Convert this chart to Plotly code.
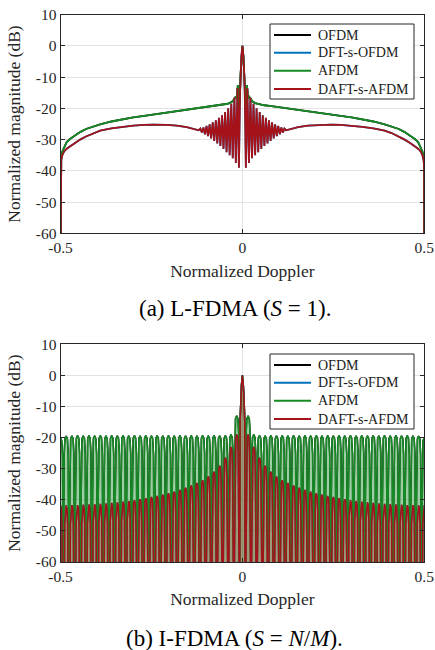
import plotly.graph_objects as go

W, H = 435, 650
FONT = "Liberation Serif"
AX = "#262626"
GRID = "#e3e3e3"


def px(xp):
    return xp / W


def py(yp):
    return 1 - yp / H


series_names = ["OFDM", "DFT-s-OFDM", "AFDM", "DAFT-s-AFDM"]
series_colors = ["#000000", "#0072BD", "#178A26", "#A51219"]

x_tick_vals = [-0.5, 0, 0.5]
x_tick_text = ["-0.5", "0", "0.5"]
y_tick_vals = [-60, -50, -40, -30, -20, -10, 0, 10]
y_tick_text = ["-60", "-50", "-40", "-30", "-20", "-10", "0", "10"]

# main lobe shared by all curves (distance from 0, dB)
main_lobe_d = [0.0025, 0.005, 0.0065]
main_lobe_db = [-3.0, -9.0, -15.0]
peak_db = 0.0

# ---- (a) L-FDMA : left half (x < 0), curve is symmetric
a_green_x = [-0.5, -0.4995, -0.498, -0.495, -0.49, -0.483, -0.474, -0.46, -0.446, -0.43,
             -0.41, -0.391, -0.36, -0.33, -0.3, -0.27, -0.245, -0.208, -0.18, -0.153,
             -0.135, -0.117, -0.1, -0.08, -0.06, -0.045, -0.035, -0.028, -0.022, -0.018,
             -0.0155, -0.0125, -0.0095]
a_green_db = [-80, -37.0, -35.5, -33.8, -32.3, -30.8, -29.8, -28.6, -27.6, -26.6,
              -25.8, -25.1, -24.2, -23.5, -22.9, -22.4, -22.0, -21.4, -21.0, -20.5,
              -20.2, -19.9, -19.6, -19.3, -19.0, -18.6, -18.3, -17.8, -17.0, -16.2,
              -16.8, -12.5, -20.0]

a_red_x = [-0.5, -0.4995, -0.498, -0.495, -0.49, -0.483, -0.474, -0.46, -0.446, -0.43,
           -0.41, -0.391, -0.36, -0.33, -0.3, -0.27, -0.245, -0.208, -0.18, -0.153,
           -0.135, -0.12]
a_red_db = [-80, -38.5, -36.5, -35.0, -33.8, -32.9, -32.2, -31.0, -30.0, -29.0,
            -27.9, -27.1, -26.4, -25.9, -25.5, -25.3, -25.2, -25.3, -25.5, -26.0,
            -26.5, -27.0]

# oscillation of DAFT-s-AFDM around the centre (distance from 0)
a_osc_trough_d = [0.0095, 0.018, 0.0265, 0.035, 0.0435, 0.052, 0.0605, 0.069, 0.0775,
                  0.086, 0.0945, 0.103, 0.1115]
a_osc_trough_db = [-39.0, -37.5, -36.0, -35.0, -34.0, -33.0, -32.0, -31.2, -30.4,
                   -29.6, -28.9, -28.3, -27.7]
a_osc_peak_d = [0.0135, 0.022, 0.0305, 0.039, 0.0475, 0.056, 0.0645, 0.073, 0.0815,
                0.09, 0.0985, 0.107, 0.1155]
a_osc_peak_db = [-13.5, -16.5, -18.5, -20.0, -21.2, -22.2, -23.0, -23.8, -24.5,
                 -25.1, -25.6, -26.1, -26.5]

# ---- (b) I-FDMA : comb with spacing 1/64, peak level of each tooth |k| = 0..32
b_comb_spacing = 1 / 64
b_green_peak_db = [0.0, -13.0, -19.0, -19.3, -19.4, -19.3, -19.4, -19.3, -19.4, -19.3,
                   -19.4, -19.3, -19.4, -19.3, -19.4, -19.3, -19.4, -19.3, -19.4, -19.3,
                   -19.4, -19.3, -19.4, -19.3, -19.4, -19.3, -19.4, -19.3, -19.4, -19.3,
                   -19.4, -19.5, -20.0]
b_red_peak_db = [0.0, -19.0, -23.0, -26.5, -29.0, -31.0, -32.5, -33.7, -34.6, -35.4,
                 -36.1, -36.8, -37.4, -37.9, -38.4, -38.8, -39.1, -39.5, -39.8, -40.1,
                 -40.4, -40.6, -40.8, -41.0, -41.2, -41.3, -41.4, -41.5, -41.6, -41.7,
                 -41.7, -41.8, -41.8]
# tooth shapes (fraction of the spacing, dB below the tooth's peak)
b_green_lobe_frac = [0.22, 0.36, 0.44]
b_red_lobe_frac = [0.15, 0.26, 0.34]
b_lobe_drop_db = [1.0, 6.0, 30.0]
b_floor_db = -80.0

# legend boxes (reference pixels): left, top, right, bottom ; row offsets from top
legend_boxes = [(270, 24, 414, 99), (270, 354, 414, 429)]
legend_rows = [11, 28.7, 46.7, 65]


def symmetric(left_pts):
    left = sorted(left_pts)
    xs = [p[0] for p in left] + [0.0] + [-p[0] for p in reversed(left)]
    ys = [p[1] for p in left] + [peak_db] + [p[1] for p in reversed(left)]
    return xs, ys


main_left = [(-d, v) for d, v in zip(main_lobe_d, main_lobe_db)]
a_green_xs, a_green_ys = symmetric(list(zip(a_green_x, a_green_db)) + main_left)
a_red_xs, a_red_ys = symmetric(
    list(zip(a_red_x, a_red_db))
    + [(-d, v) for d, v in zip(a_osc_trough_d, a_osc_trough_db)]
    + [(-d, v) for d, v in zip(a_osc_peak_d, a_osc_peak_db)]
    + main_left
)


def comb(peaks, fracs):
    P = b_comb_spacing
    K = len(peaks) - 1
    xs, ys = [], []
    prof = list(zip(fracs, b_lobe_drop_db))
    for k in range(-K, K + 1):
        c = k * P
        xs.append(c - 0.5 * P)
        ys.append(b_floor_db)
        if k == 0:
            for d, v in reversed(list(zip(main_lobe_d, main_lobe_db))):
                xs.append(-d); ys.append(v)
            xs.append(0.0); ys.append(peaks[0])
            for d, v in zip(main_lobe_d, main_lobe_db):
                xs.append(d); ys.append(v)
        else:
            pk = peaks[abs(k)]
            for f, dr in reversed(prof):
                xs.append(c - f * P); ys.append(pk - dr)
            xs.append(c); ys.append(pk)
            for f, dr in prof:
                xs.append(c + f * P); ys.append(pk - dr)
    xs.append(K * P + 0.5 * P)
    ys.append(b_floor_db)
    return xs, ys


b_green_xs, b_green_ys = comb(b_green_peak_db, b_green_lobe_frac)
b_red_xs, b_red_ys = comb(b_red_peak_db, b_red_lobe_frac)

fig = go.Figure()

panel_a = [(a_green_xs, a_green_ys), (a_red_xs, a_red_ys), (a_green_xs, a_green_ys), (a_red_xs, a_red_ys)]
for i, (xs, ys) in enumerate(panel_a):
    fig.add_trace(go.Scatter(x=xs, y=ys, mode="lines", name=series_names[i],
                             line=dict(color=series_colors[i], width=1.8),
                             xaxis="x", yaxis="y", showlegend=False))

panel_b = [(b_green_xs, b_green_ys), (b_red_xs, b_red_ys), (b_green_xs, b_green_ys), (b_red_xs, b_red_ys)]
fills = [None, None, "rgba(23,138,38,0.42)", "rgba(150,40,25,0.32)"]
for i, (xs, ys) in enumerate(panel_b):
    kw = {}
    if fills[i]:
        kw = dict(fill="toself", fillcolor=fills[i])
    fig.add_trace(go.Scatter(x=xs, y=ys, mode="lines", name=series_names[i],
                             line=dict(color=series_colors[i], width=1.5),
                             xaxis="x2", yaxis="y2", showlegend=False, **kw))

xdom = [px(60.5), px(424.3)]
common_x = dict(range=[-0.5, 0.5], tickvals=x_tick_vals, ticktext=x_tick_text,
                showgrid=True, gridcolor=GRID, gridwidth=1, zeroline=False,
                showline=True, linecolor=AX, linewidth=1, mirror="ticks",
                ticks="inside", ticklen=4, tickcolor=AX, automargin=False,
                tickfont=dict(family=FONT, size=15.5, color=AX),
                title=dict(text="Normalized Doppler", font=dict(family=FONT, size=17.5, color=AX), standoff=9),
                domain=xdom)
common_y = dict(range=[-60, 10], tickvals=y_tick_vals, ticktext=y_tick_text,
                showgrid=True, gridcolor=GRID, gridwidth=1, zeroline=False,
                showline=True, linecolor=AX, linewidth=1, mirror="ticks",
                ticks="inside", ticklen=4, tickcolor=AX, automargin=False,
                tickfont=dict(family=FONT, size=15.5, color=AX),
                title=dict(text="Normalized magnitude (dB)", font=dict(family=FONT, size=17.5, color=AX), standoff=10))

# legends drawn as a framed box with line samples and text
shapes, annotations = [], []
for (l, t, r, b) in legend_boxes:
    shapes.append(dict(type="rect", xref="paper", yref="paper", x0=px(l), x1=px(r), y0=py(b), y1=py(t),
                       line=dict(color=AX, width=1), fillcolor="white", layer="above"))
    for i, dy in enumerate(legend_rows):
        yy = py(t + dy)
        shapes.append(dict(type="line", xref="paper", yref="paper", x0=px(l + 4), x1=px(l + 41),
                           y0=yy, y1=yy, line=dict(color=series_colors[i], width=2), layer="above"))
        annotations.append(dict(text=series_names[i], x=px(l + 46), y=yy, xref="paper", yref="paper",
                                showarrow=False, xanchor="left", yanchor="middle",
                                font=dict(family=FONT, size=14, color="#1a1a1a")))

annotations += [
    dict(text="(a) L-FDMA (<i>S</i> = 1).", x=px(234.5), y=py(308), xref="paper", yref="paper",
         showarrow=False, xanchor="center", yanchor="middle",
         font=dict(family=FONT, size=23, color="black")),
    dict(text="(b) I-FDMA (<i>S</i> = <i>N</i>/<i>M</i>).", x=px(234.7), y=py(638),
         xref="paper", yref="paper", showarrow=False, xanchor="center", yanchor="middle",
         font=dict(family=FONT, size=23, color="black")),
]

fig.update_layout(
    width=W, height=H, margin=dict(l=0, r=0, t=0, b=0),
    paper_bgcolor="white", plot_bgcolor="white", showlegend=False,
    font=dict(family=FONT),
    xaxis=dict(anchor="y", **common_x),
    yaxis=dict(anchor="x", domain=[py(233.3), py(14.7)], **common_y),
    xaxis2=dict(anchor="y2", **common_x),
    yaxis2=dict(anchor="x2", domain=[py(562), py(344.3)], **common_y),
    shapes=shapes,
    annotations=annotations,
)

# remove the default page margin so the 435x650 figure fills the window exactly
fig.write_html("out.html", config={"displayModeBar": False},
               post_script="document.body.style.margin='0px';document.body.style.overflow='hidden';")
